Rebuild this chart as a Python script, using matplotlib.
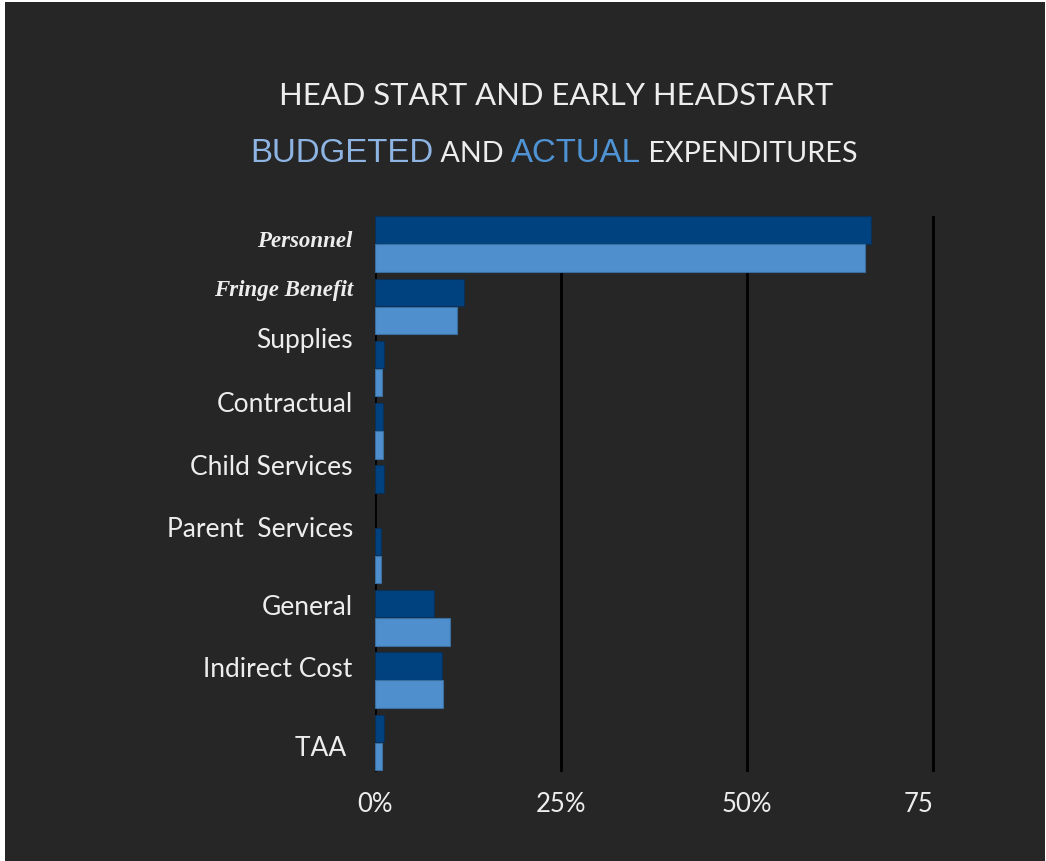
import numpy as np
import matplotlib.pyplot as plt
import matplotlib.transforms as mtransforms
from matplotlib.patches import Rectangle
from matplotlib.offsetbox import TextArea, HPacker, AnchoredOffsetbox

# === DATA ===
categories = ["Personnel", "Fringe Benefit", "Supplies", "Contractual", "Child Services",
              "Parent  Services", "General", "Indirect Cost", "TAA "]
budgeted = [66.7, 12.0, 1.2, 1.1, 1.2, 0.8, 7.9, 9.0, 1.2]
actual = [65.8, 11.0, 1.0, 1.1, 0.0, 0.8, 10.1, 9.1, 1.0]
xtick_vals = [0, 25, 50, 75]
xtick_labels = ["0%", "25%", "50%", "75"]

# label placement (the labels sit a bit off the bar groups in the original)
label_pos = [-0.10, 0.69, 1.49, 2.52, 3.53, 4.53, 5.78, 6.77, 8.04]

# === STYLE ===
bg = "#262626"
dark_blue = "#00427F"
light_blue = "#4F8FCD"
text_col = "#EDEDED"

W, H = 1046, 862
fig = plt.figure(figsize=(W / 100, H / 100), dpi=100, facecolor="white")
fig.patches.append(Rectangle((5 / W, 0), (W - 6) / W, (H - 3) / H,
                             transform=fig.transFigure, facecolor=bg,
                             edgecolor="none", zorder=-10))

ax = fig.add_axes([375 / W, 1 - 773 / H, (940.4 - 375) / W, (773 - 217) / H])
ax.set_facecolor(bg)
ax.patch.set_alpha(0)

y = np.arange(len(categories))
bar_h = 0.44
b1 = ax.barh(y - 0.225, budgeted, height=bar_h, color=dark_blue,
             edgecolor="#0B2F55", linewidth=0.8, zorder=3)
b2 = ax.barh(y + 0.225, actual, height=bar_h, color=light_blue,
             edgecolor="#3A6E9F", linewidth=0.8, zorder=3)
# hide empty bars so no edge stub shows
for p in list(b1) + list(b2):
    if p.get_width() == 0:
        p.set_visible(False)

for v in xtick_vals:
    ax.axvline(v, color="black", linewidth=2, zorder=1)

ax.set_xlim(0, 76)
ax.set_ylim(8.475, -0.449)
for s in ax.spines.values():
    s.set_visible(False)

ax.set_xticks(xtick_vals)
ax.set_xticklabels(xtick_labels, fontsize=18.5, color=text_col, family="Lato")
ax.tick_params(axis="x", length=0, pad=14)
# the "75" label sits a little left of its gridline in the original
last = ax.get_xticklabels()[-1]
last.set_transform(last.get_transform() +
                   mtransforms.ScaledTranslation(-14 / 100, 0, fig.dpi_scale_trans))

ax.set_yticks(label_pos)
ax.set_yticklabels(categories, fontsize=19, color=text_col, family="Lato")
ax.tick_params(axis="y", length=0, pad=16)
for lab in ax.get_yticklabels()[:2]:
    lab.set_family("Liberation Serif")
    lab.set_style("italic")
    lab.set_weight("bold")
    lab.set_fontsize(16.5)

# === TITLE ===
fig.text(556 / W, 1 - 96 / H, "HEAD START AND EARLY HEADSTART", ha="center",
         va="center", fontsize=22.3, color=text_col, family="Lato")

pieces = [
    TextArea("BUDGETED", textprops=dict(color="#8EB4E3", fontsize=23.8, family="Liberation Sans")),
    TextArea(" AND ", textprops=dict(color=text_col, fontsize=20.7, family="Lato")),
    TextArea("ACTUAL", textprops=dict(color="#4F93D5", fontsize=23.8, family="Liberation Sans")),
    TextArea(" EXPENDITURES", textprops=dict(color=text_col, fontsize=20.7, family="Lato")),
]
row = HPacker(children=pieces, align="baseline", pad=0, sep=0)
title2 = AnchoredOffsetbox(loc="center", child=row, pad=0, borderpad=0, frameon=False,
                           bbox_to_anchor=(554 / W, 1 - 154 / H),
                           bbox_transform=fig.transFigure)
fig.add_artist(title2)

fig.savefig("out.png", dpi=100, facecolor=fig.get_facecolor())
